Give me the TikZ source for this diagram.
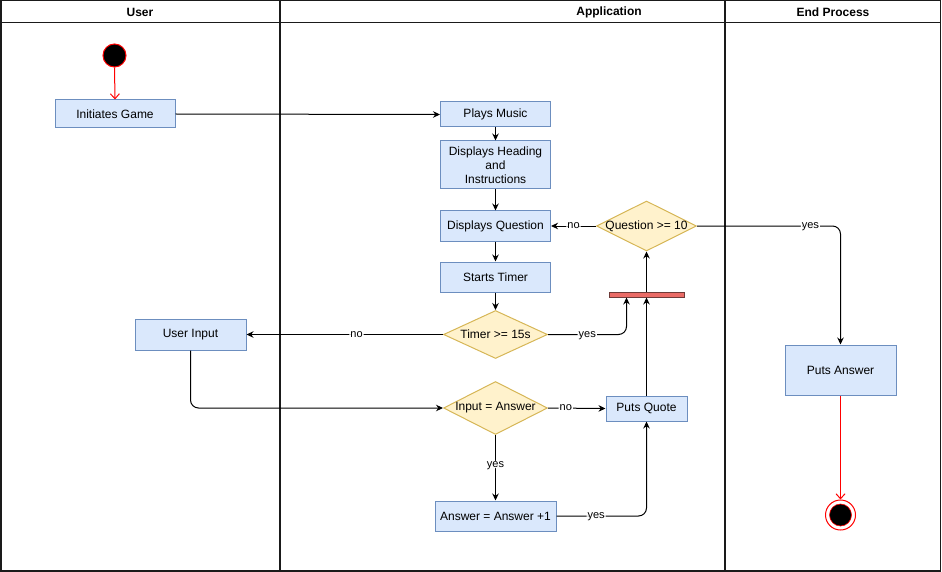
\documentclass[tikz,border=0pt]{standalone}
\usepackage{fontspec}
\setmainfont{Liberation Sans}
\usetikzlibrary{arrows.meta,shapes.geometric}
\definecolor{procfill}{HTML}{DAE8FC}
\definecolor{procline}{HTML}{6C8EBF}
\definecolor{decfill}{HTML}{FFF2CC}
\definecolor{decline}{HTML}{D6B656}
\definecolor{barfill}{HTML}{EA6B66}
\definecolor{barline}{HTML}{6E3A38}
\definecolor{lane}{HTML}{1A1A1A}

\begin{document}
\begin{tikzpicture}[x=1pt,y=-1pt,
  font=\fontsize{12}{14}\selectfont,
  proc/.style={rectangle, draw=procline, fill=procfill, line width=1pt, inner sep=0pt, align=center},
  dec/.style={diamond, draw=decline, fill=decfill, line width=1pt, inner sep=0pt},
  flow/.style={draw=black, line width=1pt, -{Stealth[length=7pt,width=6.5pt]}, rounded corners=8pt},
  redflow/.style={draw=red, line width=1pt, -{Straight Barb[length=5pt,width=9pt]}},
  elabel/.style={fill=white, inner sep=1pt, text height=1ex, text depth=0pt, font=\fontsize{11}{13}\selectfont},
  lanehead/.style={font=\bfseries\fontsize{12}{14}\selectfont}]

\useasboundingbox (0,0) rectangle (942,572);

% swimlane frame, header row and lane separators
\draw[line width=1.5pt, lane] (0.75,0.75) rectangle (940.25,570.75);
\draw[line width=1pt, lane] (0,23) -- (941,23);
\draw[line width=1.5pt, lane] (280,0) -- (280,571);
\draw[line width=1.5pt, lane] (725,0) -- (725,571);
\node[lanehead] (hUser) at (140,12.5) {User};
\node[lanehead] (hApp)  at (609,12.5) {Application};
\node[lanehead] (hEnd)  at (833,12.5) {End Process};

% initial and final states
\node[circle, draw=red, fill=black, line width=1pt, minimum size=23pt, inner sep=0pt] (start) at (114.5,55.5) {};
\node[circle, draw=red, fill=white, line width=1pt, minimum size=30pt, inner sep=0pt] (endo) at (840.5,515) {};
\node[circle, draw=red, fill=black, line width=0.6pt, minimum size=22pt, inner sep=0pt] (endi) at (endo) {};

% activities
\node[proc, minimum width=120pt, minimum height=28pt] (ig) at (115,114) {Initiates Game};
\node[proc, minimum width=110pt, minimum height=25pt] (pm) at (495.5,114.5) {Plays Music};
\node[proc, minimum width=110pt, minimum height=48pt] (dh) at (495.5,165) {Displays Heading\\and\\Instructions};
\node[proc, minimum width=110pt, minimum height=30pt] (dq) at (495.5,226) {Displays Question};
\node[proc, minimum width=110pt, minimum height=30pt] (st) at (495.5,277) {Starts Timer};
\node[proc, minimum width=111pt, minimum height=31pt] (ui) at (190.5,334.5) {User Input};
\node[proc, minimum width=81pt, minimum height=25pt] (pq) at (646.5,408.5) {Puts Quote};
\node[proc, minimum width=121pt, minimum height=30pt] (ans) at (495.5,516) {Answer = Answer +1};
\node[proc, minimum width=111pt, minimum height=50pt] (pa) at (840.5,370) {Puts Answer};

% decisions
\node[dec, minimum width=100pt, minimum height=50pt] (q10) at (646.5,226) {\makebox[0pt]{Question >= 10}};
\node[dec, minimum width=104pt, minimum height=48pt] (t15) at (495.5,334.5) {\makebox[0pt]{Timer >= 15s}};
\node[dec, minimum width=104pt, minimum height=53pt] (ia) at (495.5,408) {\makebox[0pt]{Input = Answer}};

% join bar
\node[rectangle, draw=barline, fill=barfill, line width=1pt, minimum width=75pt, minimum height=5pt, inner sep=0pt] (bar) at (646.5,294.5) {};
\coordinate (barL) at ([xshift=-20pt]bar.south);

% control flow
\draw[redflow] (start.south) -- (ig.north);
\draw[flow] (ig.east) -- (pm.west);
\draw[flow] (pm.south) -- (dh.north);
\draw[flow] (dh.south) -- (dq.north);
\draw[flow] (dq.south) -- (st.north);
\draw[flow] (st.south) -- (t15.north);
\draw[flow] (t15.west) -- node[elabel, pos=0.44] {no} (ui.east);
\draw[flow] (t15.east) -| node[elabel, pos=0.25] {yes} (barL);
\draw[flow] (ui.south) |- (ia.west);
\draw[flow] (ia.east) -- node[elabel, pos=0.31] {no} (pq.west);
\draw[flow] (ia.south) -- node[elabel, pos=0.45] {yes} (ans.north);
\draw[flow] (ans.east) -| node[elabel, pos=0.22] {yes} (pq.south);
\draw[flow] (pq.north) -- (bar.south);
\draw[flow] (bar.north) -- (q10.south);
\draw[flow] (q10.west) -- node[elabel, pos=0.5] {no} (dq.east);
\draw[flow] (q10.east) -| node[elabel, pos=0.395] {yes} (pa.north);
\draw[redflow] (pa.south) -- (endo.north);

\end{tikzpicture}
\end{document}
